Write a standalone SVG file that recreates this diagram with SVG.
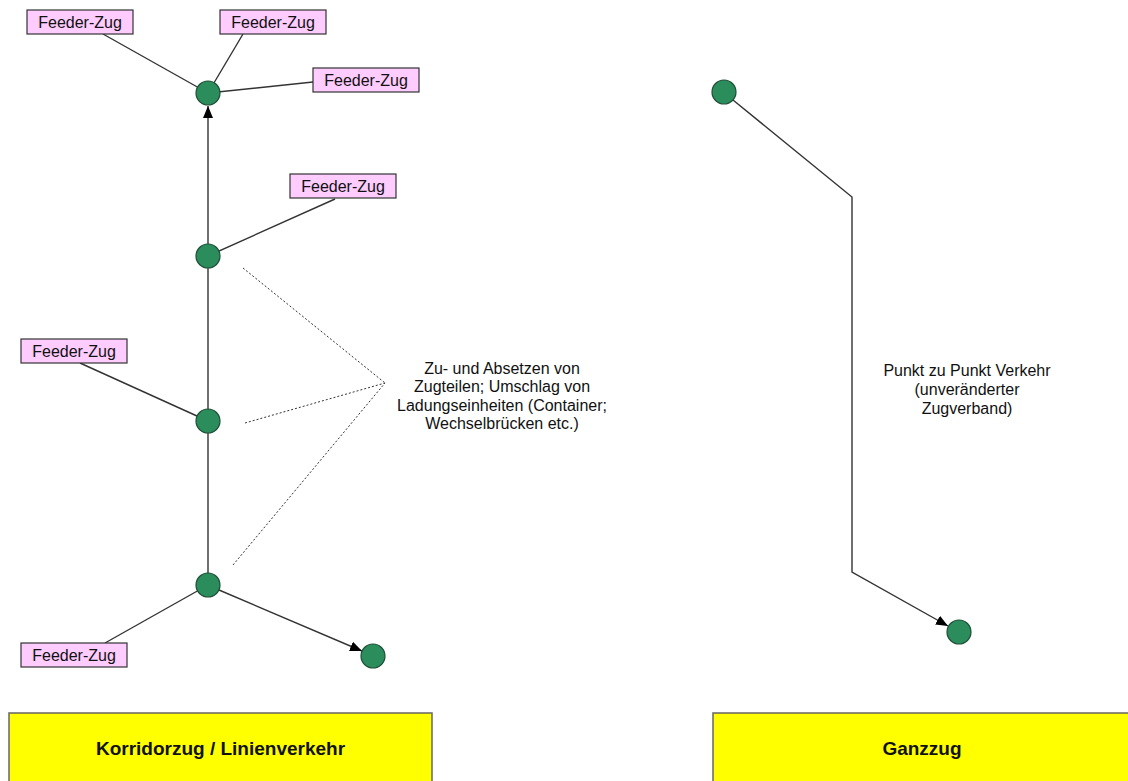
<svg xmlns="http://www.w3.org/2000/svg" width="1128" height="781" viewBox="0 0 1128 781">
  <style>
    text { font-family: "Liberation Sans", Arial, sans-serif; fill: #111; }
    .feeder rect { fill: #ffccff; stroke: #333; stroke-width: 1.2; }
    .feeder text { font-size: 16px; text-anchor: middle; }
    .stop { fill: #2b8c5c; stroke: #1f4f36; stroke-width: 1.2; }
    .conn { stroke: #333; stroke-width: 1.4; fill: none; }
    .dot { stroke: #333; stroke-width: 1; stroke-dasharray: 2 2; fill: none; }
    .title rect { fill: #ffff00; stroke: #666; stroke-width: 1.5; }
    .title text { font-size: 19px; font-weight: bold; text-anchor: middle; }
    .note { font-size: 16px; text-anchor: middle; }
  </style>
  <defs>
    <marker id="arr" viewBox="0 0 12 10" refX="12" refY="5" markerWidth="12" markerHeight="10" markerUnits="userSpaceOnUse" orient="auto">
      <path d="M0,0 L12,5 L0,10 z" fill="#000"/>
    </marker>
  </defs>

  <g id="connectors">
    <line class="conn" x1="103" y1="34" x2="208" y2="93"/>
    <line class="conn" x1="243" y1="34" x2="208" y2="93"/>
    <line class="conn" x1="313" y1="82" x2="208" y2="93"/>
    <line class="conn" x1="335" y1="199" x2="208" y2="256"/>
    <line class="conn" x1="208" y1="244" x2="208" y2="106" marker-end="url(#arr)"/>
    <line class="conn" x1="208" y1="256" x2="208" y2="585"/>
    <line class="conn" x1="80" y1="363" x2="208" y2="421"/>
    <line class="conn" x1="105" y1="643" x2="208" y2="585"/>
    <line class="conn" x1="219" y1="590" x2="362" y2="651" marker-end="url(#arr)"/>
    <polyline class="conn" points="733,100 852,197 852,572 948,626" marker-end="url(#arr)"/>
    <line class="dot" x1="243" y1="268" x2="385" y2="383"/>
    <line class="dot" x1="245" y1="423" x2="385" y2="383"/>
    <line class="dot" x1="233" y1="565" x2="385" y2="383"/>
  </g>

  <g id="feeder1" class="feeder"><rect x="27" y="10" width="106" height="24"/><text x="80" y="28">Feeder-Zug</text></g>
  <g id="feeder2" class="feeder"><rect x="220" y="10" width="106" height="24"/><text x="273" y="28">Feeder-Zug</text></g>
  <g id="feeder3" class="feeder"><rect x="313" y="68" width="106" height="24"/><text x="366" y="86">Feeder-Zug</text></g>
  <g id="feeder4" class="feeder"><rect x="290" y="174" width="106" height="24"/><text x="343" y="192">Feeder-Zug</text></g>
  <g id="feeder5" class="feeder"><rect x="21" y="339" width="106" height="24"/><text x="74" y="357">Feeder-Zug</text></g>
  <g id="feeder6" class="feeder"><rect x="21" y="643" width="106" height="24"/><text x="74" y="661">Feeder-Zug</text></g>

  <g id="stop1"><circle class="stop" cx="208" cy="93" r="12"/></g>
  <g id="stop2"><circle class="stop" cx="208" cy="256" r="12"/></g>
  <g id="stop3"><circle class="stop" cx="208" cy="421" r="12"/></g>
  <g id="stop4"><circle class="stop" cx="208" cy="585" r="12"/></g>
  <g id="stop5"><circle class="stop" cx="373" cy="656" r="12"/></g>
  <g id="stop6"><circle class="stop" cx="724" cy="92" r="12"/></g>
  <g id="stop7"><circle class="stop" cx="959" cy="632" r="12"/></g>

  <g id="note-left">
    <text class="note" x="502" y="374">Zu- und Absetzen von</text>
    <text class="note" x="502" y="392">Zugteilen; Umschlag von</text>
    <text class="note" x="502" y="411">Ladungseinheiten (Container;</text>
    <text class="note" x="502" y="429">Wechselbrücken etc.)</text>
  </g>
  <g id="note-right">
    <text class="note" x="967" y="376">Punkt zu Punkt Verkehr</text>
    <text class="note" x="967" y="395">(unveränderter</text>
    <text class="note" x="967" y="414">Zugverband)</text>
  </g>

  <g id="title-left" class="title"><rect x="9" y="713" width="423" height="80"/><text x="220.5" y="755">Korridorzug / Linienverkehr</text></g>
  <g id="title-right" class="title"><rect x="713" y="713" width="418" height="80"/><text x="922" y="755">Ganzzug</text></g>
</svg>
